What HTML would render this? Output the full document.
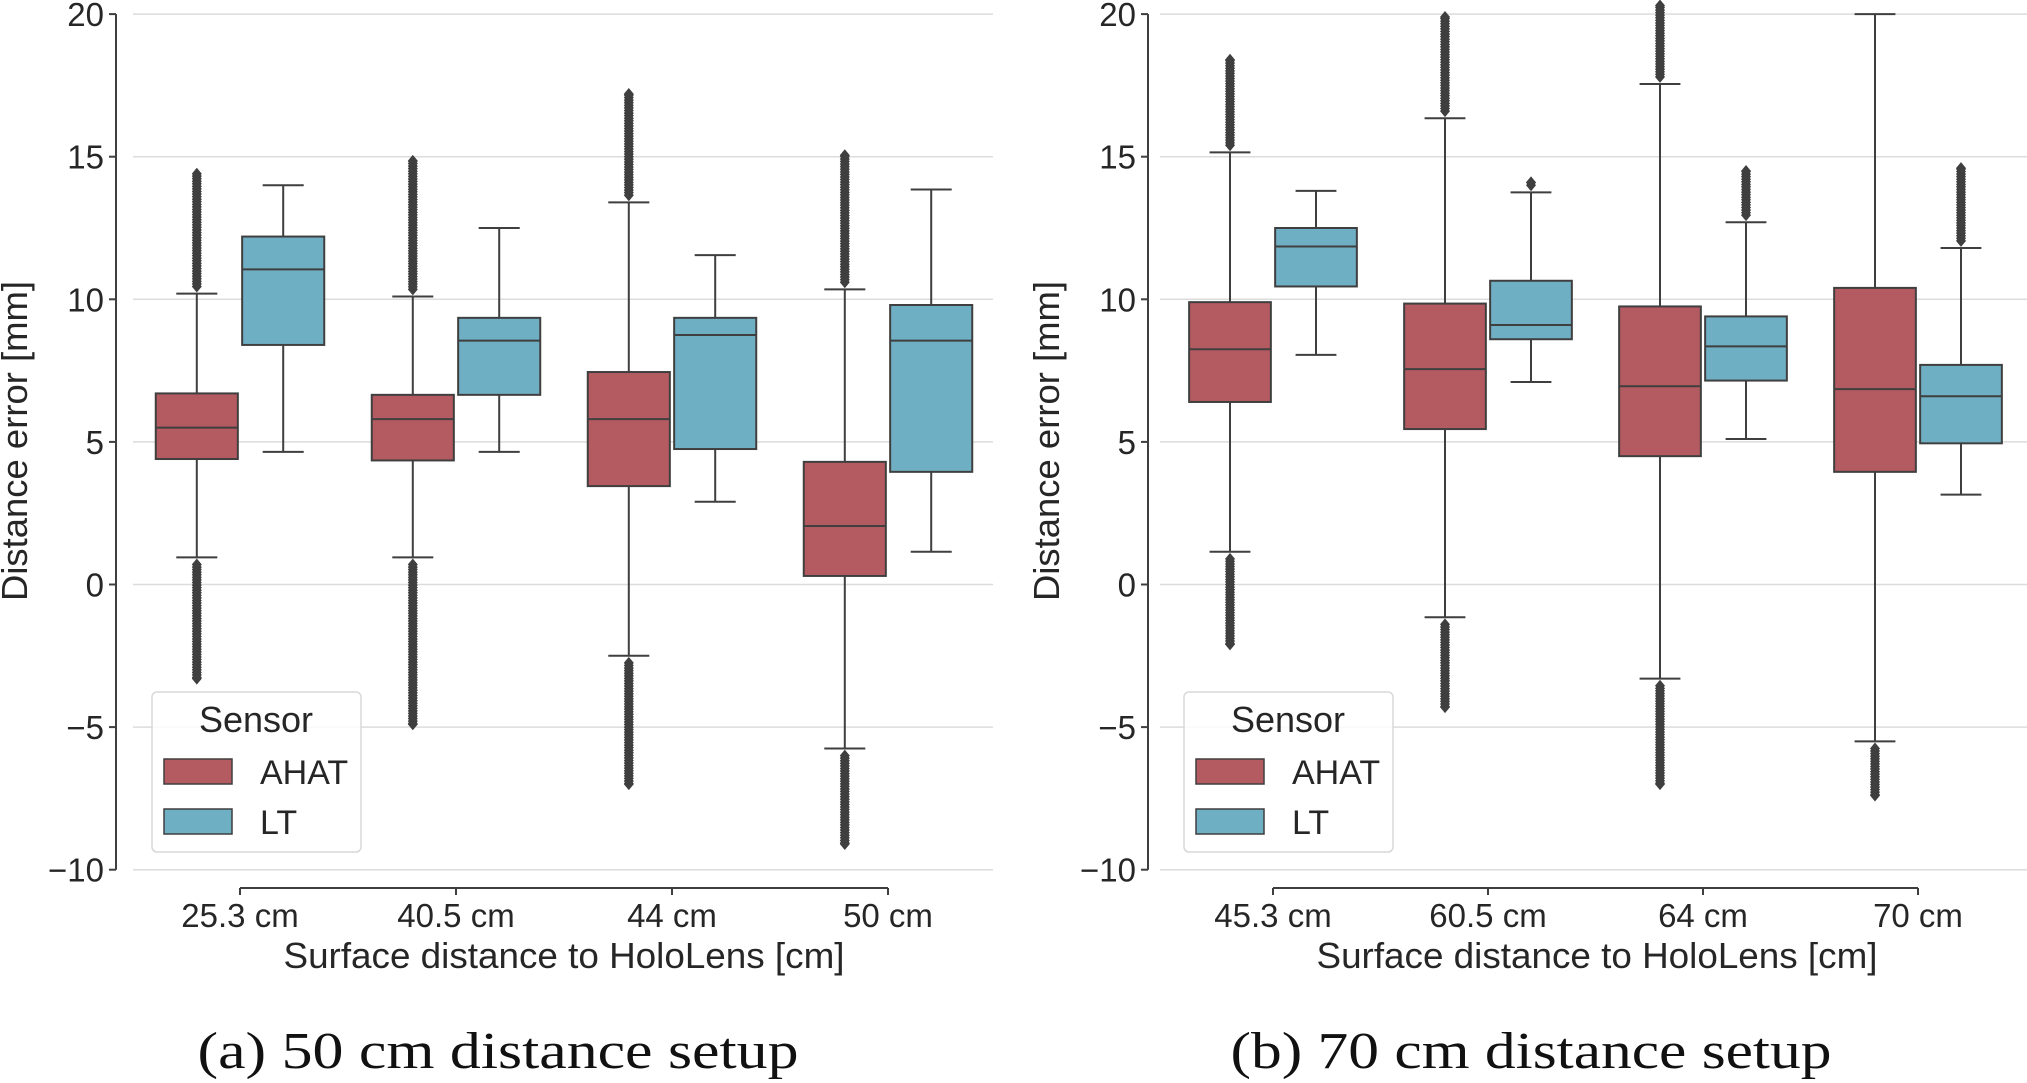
<!DOCTYPE html>
<html><head><meta charset="utf-8"><style>
body{margin:0;background:#fff;}
svg{display:block;font-family:"Liberation Sans",sans-serif;}
</style></head><body>
<svg id="fig" width="2027" height="1083" viewBox="0 0 2027 1083"></svg>
<script>
const categoriesA = ["25.3 cm","40.5 cm","44 cm","50 cm"];
const categoriesB = ["45.3 cm","60.5 cm","64 cm","70 cm"];
const yTicks = [-10,-5,0,5,10,15,20];
const series = ["AHAT","LT"];
// [whiskerLow, q1, median, q3, whiskerHigh, outlierMin, outlierMax]
const ahatA = [[0.95,4.4,5.5,6.7,10.2,-3.3,14.4],[0.95,4.35,5.8,6.65,10.1,-4.9,14.85],[-2.5,3.45,5.8,7.45,13.4,-7.0,17.2],[-5.75,0.3,2.05,4.3,10.35,-9.1,15.05]];
const ltA = [[4.65,8.4,11.05,12.2,14.0,null,null],[4.65,6.65,8.55,9.35,12.5,null,null],[2.9,4.75,8.75,9.35,11.55,null,null],[1.15,3.95,8.55,9.8,13.85,null,null]];
const ahatB = [[1.15,6.4,8.25,9.9,15.15,-2.1,18.4],[-1.15,5.45,7.55,9.85,16.35,-4.3,19.9],[-3.3,4.5,6.95,9.75,17.55,-7.0,20.3],[-5.5,3.95,6.85,10.4,20.0,-7.4,null]];
const ltB = [[8.05,10.45,11.85,12.5,13.8,null,null],[7.1,8.6,9.1,10.65,13.75,null,14.1],[5.1,7.15,8.35,9.4,12.7,null,14.5],[3.15,4.95,6.6,7.7,11.8,null,14.6]];

const NS="http://www.w3.org/2000/svg";
const svg=document.getElementById('fig');
function mk(tag,attrs,parent){const e=document.createElementNS(NS,tag);for(const k in attrs)e.setAttribute(k,attrs[k]);(parent||svg).appendChild(e);return e;}
const COL={AHAT:"#b45b61",LT:"#6fafc3"};
const LINE="#3f3f3f";
function yScale(v){return 584.5-(v)*28.52;}

function panel(cfg){
  const g=mk('g',{});
  
  
  const xc=i=>cfg.x0+cfg.step*i;
  yTicks.forEach(t=>{
    const l=mk('line',{x1:cfg.gx0,x2:cfg.gx1,y1:yScale(t),y2:yScale(t),stroke:"#dcdcdc","stroke-width":1.5},g);
    
    
    const tk=mk('line',{x1:cfg.spine-7,x2:cfg.spine,y1:yScale(t),y2:yScale(t),stroke:LINE,"stroke-width":2},g);
    
    
    const tx=mk('text',{x:cfg.spine-12,y:yScale(t)+12,"text-anchor":"end","font-size":33,fill:"#262626"},g);
    tx.textContent=(t<0?"\u2212"+(-t):t);
    
    
  });
  const ys=mk('line',{x1:cfg.spine,x2:cfg.spine,y1:yScale(20),y2:yScale(-10),stroke:LINE,"stroke-width":2},g);
  
  
  const xs=mk('line',{x1:xc(0),x2:xc(3),y1:888,y2:888,stroke:LINE,"stroke-width":2},g);
  
  
  cfg.cats.forEach((c,i)=>{
    const tk=mk('line',{x1:xc(i),x2:xc(i),y1:888,y2:895,stroke:LINE,"stroke-width":2},g);
    
    
    const t=mk('text',{x:xc(i),y:927,"text-anchor":"middle","font-size":33,fill:"#262626"},g);
    t.textContent=c;
    
    
  });
  [[cfg.ahat,"AHAT",-1],[cfg.lt,"LT",1]].forEach(([arr,s,sgn])=>{
    arr.forEach((d,i)=>{
      const cx=xc(i)+sgn*cfg.step*0.2, hw=cfg.step*0.19;
      const bg=mk('g',{},g);
      
      
      const dia=(v)=>{const y=yScale(v);mk('path',{d:`M${cx} ${y-6}L${cx+5} ${y}L${cx} ${y+6}L${cx-5} ${y}Z`,fill:LINE},bg);};
      if(d[5]!==null){for(let v=d[0]-0.25;v>=d[5];v-=0.09)dia(v);dia(d[5]);}
      if(d[6]!==null){for(let v=d[4]+0.25;v<=d[6];v+=0.09)dia(v);dia(d[6]);}
      mk('line',{x1:cx,x2:cx,y1:yScale(d[0]),y2:yScale(d[4]),stroke:LINE,"stroke-width":2},bg);
      mk('line',{x1:cx-hw/2,x2:cx+hw/2,y1:yScale(d[0]),y2:yScale(d[0]),stroke:LINE,"stroke-width":2},bg);
      mk('line',{x1:cx-hw/2,x2:cx+hw/2,y1:yScale(d[4]),y2:yScale(d[4]),stroke:LINE,"stroke-width":2},bg);
      mk('rect',{x:cx-hw,y:yScale(d[3]),width:2*hw,height:yScale(d[1])-yScale(d[3]),fill:COL[s],stroke:LINE,"stroke-width":2},bg);
      mk('line',{x1:cx-hw,x2:cx+hw,y1:yScale(d[2]),y2:yScale(d[2]),stroke:LINE,"stroke-width":2},bg);
    });
  });
  const lg=mk('g',{},g);
  
  
  mk('rect',{x:cfg.lx,y:692,width:209,height:160,rx:5,fill:"rgba(255,255,255,0.85)",stroke:"#d8d8d8","stroke-width":1.5},lg);
  const lt=mk('text',{x:cfg.lx+104,y:732,"text-anchor":"middle","font-size":36,fill:"#262626"},lg);
  lt.textContent="Sensor";
  series.forEach((s,k)=>{
    const e=mk('g',{},lg);
    
    
    mk('rect',{x:cfg.lx+12,y:759+k*50,width:68,height:25,fill:COL[s],stroke:LINE,"stroke-width":1.5},e);
    const t=mk('text',{x:cfg.lx+108,y:784+k*50,"font-size":34,fill:"#262626"},e);
    t.textContent=s;
  });
  const xt=mk('text',{x:cfg.xlabel,y:968,"text-anchor":"middle","font-size":36,fill:"#262626",textLength:561,lengthAdjust:"spacingAndGlyphs"},g);
  xt.textContent="Surface distance to HoloLens [cm]";
  
  
  const yt=mk('text',{x:0,y:0,"text-anchor":"middle","font-size":36,fill:"#262626",textLength:320,lengthAdjust:"spacingAndGlyphs",transform:`translate(${cfg.spine-89},441) rotate(-90)`},g);
  yt.textContent="Distance error [mm]";
  
  
  const cap=mk('text',{x:cfg.xlabel-66,y:1068,"text-anchor":"middle","font-size":52,fill:"#111","font-family":"Liberation Serif, serif",textLength:601,lengthAdjust:"spacingAndGlyphs"},g);
  cap.textContent=cfg.caption;
  
  
}
panel({name:'chart-50cm',cats:categoriesA,ahat:ahatA,lt:ltA,x0:240,step:216,spine:116,gx0:133,gx1:993,lx:152,xlabel:564,caption:"(a) 50 cm distance setup"});
panel({name:'chart-70cm',cats:categoriesB,ahat:ahatB,lt:ltB,x0:1273,step:215,spine:1148,gx0:1160,gx1:2027,lx:1184,xlabel:1597,caption:"(b) 70 cm distance setup"});
</script>
</body></html>
